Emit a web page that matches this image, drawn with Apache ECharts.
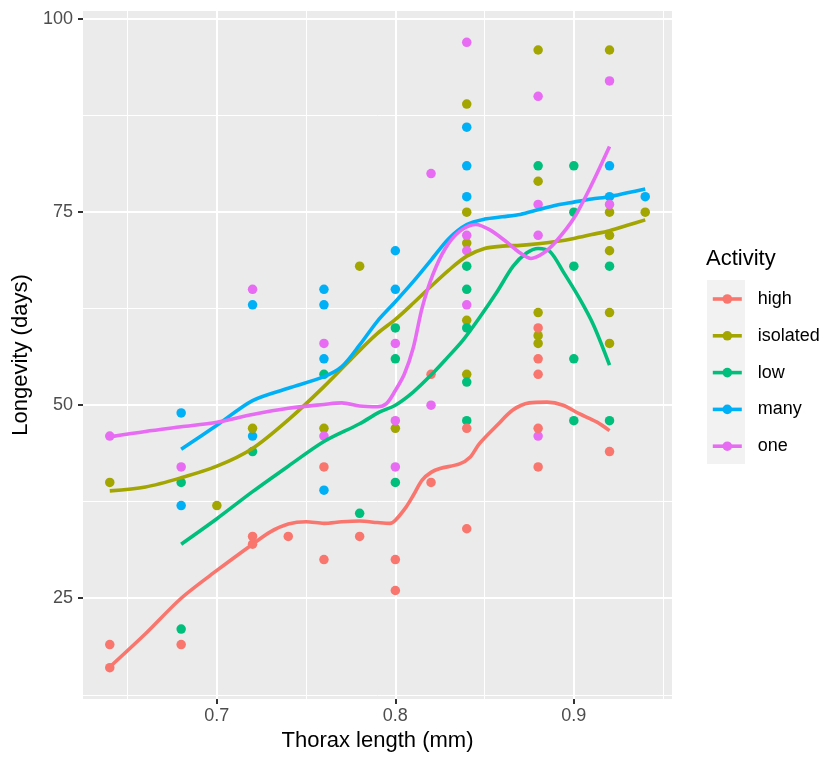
<!DOCTYPE html>
<html>
<head>
<meta charset="utf-8">
<title>Longevity vs thorax length</title>
<script src="https://cdn.jsdelivr.net/npm/echarts@6/dist/echarts.min.js"></script>
<style>
  html, body { margin: 0; padding: 0; background: #fff; }
  #chart { width: 823px; height: 757px; }
</style>
</head>
<body>
<div id="chart"></div>
<script>
const font = "'Liberation Sans', Arial, sans-serif";

const activities = ["high", "isolated", "low", "many", "one"];
const colors = ["#F8766D", "#A3A500", "#00BF7D", "#00B0F6", "#E76BF3"];
// order the points are drawn in (last one ends up on top)
const drawOrder = ["many", "isolated", "one", "low", "high"];

const xMajor = [0.7, 0.8, 0.9];
const xMinor = [0.65, 0.75, 0.85, 0.95];
const yMajor = [25, 50, 75, 100];
const yMinor = [12.5, 37.5, 62.5, 87.5];

// [thorax, longevity]
const highPts = [
  [0.64, 19], [0.64, 16], [0.68, 19], [0.72, 33], [0.72, 32], [0.74, 33],
  [0.76, 42], [0.76, 30], [0.78, 33], [0.80, 30], [0.80, 26], [0.82, 40],
  [0.82, 54], [0.84, 47], [0.84, 34], [0.88, 60], [0.88, 56], [0.88, 54],
  [0.88, 47], [0.88, 42], [0.92, 44]
];
const isolatedPts = [
  [0.64, 40], [0.70, 37], [0.72, 47], [0.76, 47], [0.78, 68], [0.80, 47],
  [0.84, 89], [0.84, 75], [0.84, 71], [0.84, 61], [0.84, 54], [0.88, 96],
  [0.88, 79], [0.88, 62], [0.88, 59], [0.88, 58], [0.92, 96], [0.92, 75],
  [0.92, 72], [0.92, 70], [0.92, 62], [0.92, 58], [0.94, 75]
];
const lowPts = [
  [0.68, 40], [0.68, 21], [0.72, 44], [0.76, 54], [0.78, 36], [0.80, 60],
  [0.80, 56], [0.80, 40], [0.84, 68], [0.84, 65], [0.84, 60], [0.84, 53],
  [0.84, 48], [0.88, 81], [0.90, 81], [0.90, 75], [0.90, 68], [0.90, 56],
  [0.90, 48], [0.92, 68], [0.92, 48]
];
const manyPts = [
  [0.68, 49], [0.68, 37], [0.72, 63], [0.72, 46], [0.76, 65], [0.76, 63],
  [0.76, 56], [0.76, 39], [0.80, 70], [0.80, 65], [0.84, 86], [0.84, 81],
  [0.84, 77], [0.92, 81], [0.92, 77], [0.94, 77]
];
const onePts = [
  [0.64, 46], [0.68, 42], [0.72, 65], [0.76, 58], [0.76, 46], [0.80, 58],
  [0.80, 48], [0.80, 42], [0.82, 80], [0.82, 50], [0.84, 97], [0.84, 72],
  [0.84, 70], [0.84, 63], [0.88, 90], [0.88, 76], [0.88, 72], [0.88, 46],
  [0.92, 92], [0.92, 76]
];

// smoothed trend per group
const highFit = [
  [0.64, 16.1], [0.66, 20.4], [0.68, 25.0], [0.70, 28.6], [0.72, 32.0],
  [0.73, 33.6], [0.74, 34.6], [0.75, 34.9], [0.76, 34.7], [0.77, 34.9],
  [0.78, 35.0], [0.79, 34.8], [0.797, 34.7], [0.80, 35.1], [0.806, 36.8],
  [0.81, 38.3], [0.815, 40.3], [0.82, 41.3], [0.825, 41.8], [0.836, 42.4],
  [0.842, 43.3], [0.847, 45.0], [0.857, 47.4], [0.866, 49.4], [0.875, 50.3],
  [0.885, 50.4], [0.894, 50.0], [0.903, 48.9], [0.913, 47.8], [0.92, 46.7]
];
const isolatedFit = [
  [0.64, 38.9], [0.66, 39.4], [0.68, 40.6], [0.70, 42.1], [0.72, 44.4],
  [0.74, 48.1], [0.76, 52.4], [0.78, 57.1], [0.79, 59.3], [0.80, 61.1],
  [0.81, 63.2], [0.82, 65.4], [0.83, 67.5], [0.84, 69.3], [0.85, 70.3],
  [0.86, 70.6], [0.87, 70.7], [0.88, 70.9], [0.89, 71.2], [0.90, 71.6],
  [0.91, 72.1], [0.92, 72.6], [0.93, 73.3], [0.94, 74.0]
];
const lowFit = [
  [0.68, 32.0], [0.70, 35.3], [0.72, 38.8], [0.74, 42.1], [0.76, 45.3],
  [0.78, 47.6], [0.791, 49.1], [0.80, 50.0], [0.81, 51.7], [0.82, 53.9],
  [0.8285, 56.0], [0.8378, 58.4], [0.847, 61.3], [0.857, 64.7], [0.866, 68.0],
  [0.8735, 69.7], [0.88, 70.3], [0.8866, 69.9], [0.894, 67.3], [0.903, 63.9],
  [0.911, 60.4], [0.92, 55.2]
];
const manyFit = [
  [0.68, 44.3], [0.70, 47.4], [0.72, 50.6], [0.74, 52.2], [0.76, 53.7],
  [0.77, 55.0], [0.78, 57.8], [0.79, 60.9], [0.80, 63.4], [0.81, 66.0],
  [0.82, 68.8], [0.83, 71.6], [0.84, 73.4], [0.85, 74.1], [0.86, 74.4],
  [0.87, 74.7], [0.88, 75.3], [0.89, 75.9], [0.90, 76.3], [0.91, 76.7],
  [0.92, 77.0], [0.93, 77.5], [0.94, 78.0]
];
const oneFit = [
  [0.64, 45.9], [0.66, 46.6], [0.68, 47.2], [0.70, 47.8], [0.72, 48.8],
  [0.74, 49.6], [0.76, 50.1], [0.77, 50.3], [0.78, 49.9], [0.79, 49.8],
  [0.795, 50.2], [0.80, 51.9], [0.805, 54.0], [0.81, 57.4], [0.815, 62.6],
  [0.821, 66.9], [0.828, 70.3], [0.836, 72.5], [0.845, 73.4], [0.853, 72.7],
  [0.862, 71.2], [0.87, 69.7], [0.876, 69.0], [0.883, 69.7], [0.89, 71.2],
  [0.90, 74.2], [0.909, 78.1], [0.92, 83.5]
];

const points = { high: highPts, isolated: isolatedPts, low: lowPts, many: manyPts, one: onePts };
const fits = { high: highFit, isolated: isolatedFit, low: lowFit, many: manyFit, one: oneFit };
const colorOf = (name) => colors[activities.indexOf(name)];

const chart = echarts.init(document.getElementById("chart"));

const gridLines = [
  ...xMajor.map((v) => ({ xAxis: v, lineStyle: { width: 2 } })),
  ...xMinor.map((v) => ({ xAxis: v, lineStyle: { width: 1 } })),
  ...yMajor.map((v) => ({ yAxis: v, lineStyle: { width: 2 } })),
  ...yMinor.map((v) => ({ yAxis: v, lineStyle: { width: 1 } })),
];

const series = [
  {
    name: "_grid",
    type: "line",
    data: [],
    silent: true,
    markLine: {
      z: 1,
      silent: true,
      symbol: ["none", "none"],
      label: { show: false },
      lineStyle: { color: "#FFFFFF", type: "solid" },
      emphasis: { disabled: true },
      animation: false,
      data: gridLines,
    },
  },
  // trend lines first so the legend takes its icon from them
  ...activities.map((name) => ({
    name,
    type: "line",
    data: fits[name],
    smooth: 0.3,
    symbol: "circle",
    showSymbol: false,
    z: 3,
    lineStyle: { color: colorOf(name), width: 3.6 },
    itemStyle: { color: colorOf(name) },
    emphasis: { disabled: true },
  })),
  ...drawOrder.map((name) => ({
    name,
    type: "scatter",
    data: points[name],
    symbolSize: 9.5,
    z: 2,
    itemStyle: { color: colorOf(name), opacity: 1 },
    emphasis: { disabled: true },
  })),
];

chart.setOption({
  animation: false,
  textStyle: { fontFamily: font },
  grid: {
    left: 83,
    right: 151,
    top: 11,
    bottom: 58,
    show: true,
    backgroundColor: "#EBEBEB",
    borderWidth: 0,
  },
  title: {
    text: "Activity",
    left: 706,
    top: 248,
    padding: 0,
    textStyle: { fontSize: 22, fontWeight: "normal", color: "#000", fontFamily: font },
  },
  graphic: [
    {
      type: "rect",
      left: 707,
      top: 280,
      shape: { width: 38, height: 184 },
      style: { fill: "#F2F2F2" },
      z: -1,
    },
  ],
  legend: {
    orient: "vertical",
    left: 711,
    top: 290,
    padding: 0,
    data: activities,
    itemWidth: 29,
    itemHeight: 12,
    itemGap: 18.8,
    selectedMode: false,
    lineStyle: { width: 3.6 },
    formatter: "{a|{name}}",
    textStyle: {
      rich: {
        a: { fontSize: 18, lineHeight: 22, color: "#000", padding: [0, 0, 0, 11], fontFamily: font },
      },
    },
  },
  xAxis: {
    type: "value",
    min: 0.625,
    max: 0.955,
    axisLine: { show: false },
    splitLine: { show: false },
    axisTick: { show: true, customValues: xMajor, length: 5, lineStyle: { color: "#333333", width: 2 } },
    axisLabel: { customValues: xMajor, color: "#4D4D4D", fontSize: 18, margin: 8, fontFamily: font },
    name: "Thorax length (mm)",
    nameLocation: "middle",
    nameGap: 29,
    nameTextStyle: { fontSize: 22, color: "#000", fontFamily: font },
  },
  yAxis: {
    type: "value",
    min: 11.95,
    max: 101.05,
    axisLine: { show: false },
    splitLine: { show: false },
    axisTick: { show: true, customValues: yMajor, length: 5, lineStyle: { color: "#333333", width: 2 } },
    axisLabel: { customValues: yMajor, color: "#4D4D4D", fontSize: 18, margin: 10, fontFamily: font },
    name: "Longevity (days)",
    nameLocation: "middle",
    nameRotate: 90,
    nameGap: 50,
    nameTextStyle: { fontSize: 22, color: "#000", fontFamily: font },
  },
  series,
});

window.addEventListener("resize", () => chart.resize());
</script>
</body>
</html>
